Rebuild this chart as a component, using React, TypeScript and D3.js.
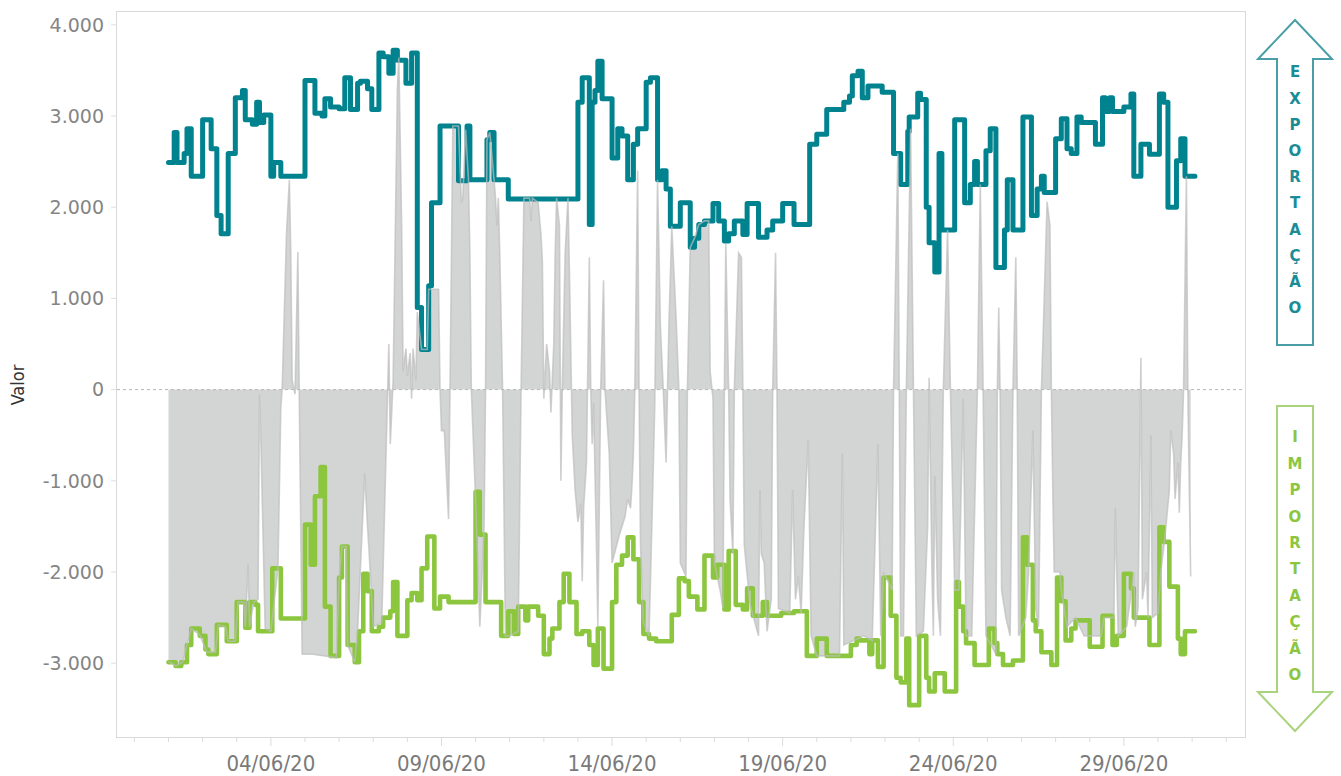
import React from "react";
import * as d3 from "d3";

// hours since 01/06/2020 00:00 -> value (step changes)
const exportSteps: [number, number][] = [
  [0,2490],[4,2820],[6,2490],[11,2590],[13,2860],[16,2340],[24,2960],[30,2640],[34,1910],[37,1710],[42,2590],[47,3200],[52,3280],[54,2960],[59,2910],[62,3150],[64,2930],[67,3010],[72,2340],[74,2490],[79,2340],[96,3390],[103,3030],[108,3000],[110,3190],[114,3100],[120,3080],[124,3420],[128,3070],[133,3360],[135,3380],[140,3300],[143,3070],[148,3690],[151,3650],[155,3470],[158,3720],[161,3610],[167,3360],[171,3690],[175,900],[178,440],[183,1140],[185,2050],[191,2890],[204,2290],[210,2890],[212,2300],[224,2740],[226,2820],[229,2300],[239,2090],[288,3150],[291,3420],[296,1810],[298,3150],[300,3280],[302,3600],[305,3190],[312,2540],[316,2860],[319,2780],[323,2300],[327,2690],[330,2860],[336,3370],[339,3420],[344,2300],[347,2400],[350,2200],[353,1790],[360,2050],[367,1560],[370,1660],[373,1810],[377,1850],[383,2040],[387,1850],[391,1630],[394,1710],[398,1850],[404,1700],[407,2040],[415,1670],[421,1750],[425,1850],[432,2040],[440,1810],[451,2690],[456,2800],[463,3070],[475,3150],[479,3220],[481,3440],[485,3490],[488,3200],[492,3330],[502,3260],[510,2590],[515,2250],[520,2830],[521,2990],[527,3250],[529,3180],[533,2000],[535,1610],[539,1290],[542,2590],[544,1750],[553,2960],[560,2050],[564,2250],[567,2500],[569,2250],[575,2620],[578,2860],[582,1340],[588,1750],[590,2300],[594,1750],[601,2990],[607,1910],[611,2200],[614,2340],[616,2160],[624,2750],[628,2970],[632,2640],[635,2590],[639,2990],[642,2930],[652,2690],[657,3200],[659,3050],[662,3200],[664,3050],[672,3100],[677,3240],[679,2340],[684,2690],[690,2580],[697,3240],[700,3150],[703,2000],[709,2510],[712,2750],[715,2340],[722,2340]
];

const importSteps: [number, number][] = [
  [0,-2990],[5,-3030],[9,-2990],[13,-2800],[16,-2620],[22,-2700],[26,-2850],[28,-2900],[34,-2580],[41,-2760],[48,-2330],[54,-2610],[57,-2330],[61,-2360],[63,-2650],[73,-1960],[79,-2510],[96,-1480],[100,-1920],[103,-1170],[107,-850],[110,-2380],[114,-2920],[120,-2060],[122,-1720],[126,-2800],[131,-2990],[134,-2650],[137,-2020],[140,-2210],[143,-2650],[148,-2600],[151,-2500],[156,-2430],[158,-2110],[161,-2700],[168,-2310],[171,-2230],[175,-2310],[178,-1960],[182,-1610],[187,-2400],[191,-2270],[197,-2330],[216,-1120],[219,-1590],[223,-2330],[234,-2700],[239,-2430],[243,-2680],[246,-2380],[251,-2530],[253,-2380],[260,-2480],[264,-2900],[268,-2730],[270,-2620],[275,-2330],[278,-2020],[282,-2330],[287,-2680],[291,-2650],[296,-2800],[299,-3020],[302,-2620],[306,-3060],[312,-2330],[315,-1920],[319,-1820],[323,-1620],[327,-1860],[331,-2330],[334,-2680],[338,-2730],[343,-2760],[354,-2470],[359,-2070],[363,-2100],[366,-2270],[372,-2410],[377,-1820],[383,-2060],[386,-1920],[391,-2410],[394,-1770],[399,-2360],[404,-2410],[407,-2180],[411,-2480],[418,-2330],[421,-2480],[431,-2450],[440,-2430],[449,-2920],[456,-2730],[463,-2920],[480,-2800],[484,-2730],[486,-2750],[493,-2900],[495,-2750],[499,-3040],[503,-2060],[508,-2480],[512,-3160],[515,-3210],[519,-2730],[521,-3460],[528,-2700],[533,-3160],[535,-3310],[539,-3110],[546,-3310],[554,-2110],[556,-2380],[559,-2650],[561,-2780],[567,-3020],[577,-2620],[581,-2780],[583,-2900],[587,-3020],[594,-2970],[601,-1620],[604,-1920],[608,-2530],[610,-2650],[614,-2880],[621,-3020],[625,-2060],[628,-2320],[631,-2750],[635,-2620],[638,-2530],[648,-2820],[657,-2480],[664,-2800],[667,-2700],[672,-2020],[677,-2180],[679,-2500],[690,-2800],[697,-1510],[700,-1670],[704,-2160],[710,-2730],[712,-2900],[715,-2650],[722,-2650]
];

const balancePoints: [number, number][] = [
  [0,-2980],[5,-3030],[10,-2990],[13,-2800],[16,-2620],[22,-2690],[27,-2880],[33,-2880],[35,-2580],[40,-2600],[42,-2760],[47,-2760],[49,-2330],[53,-2330],[54,-2600],[56,-1920],[57,-2600],[60,-2330],[63,-2300],[64,-50],[65,-580],[68,-2620],[72,-2650],[77,-1960],[79,-200],[80,30],[83,1710],[85,2300],[86,1500],[87,100],[89,-50],[91,1510],[92,-100],[94,-2900],[100,-2900],[110,-2920],[118,-2940],[120,-2100],[122,-1720],[125,-1720],[126,-2800],[131,-2990],[133,-2650],[138,-920],[140,-1500],[141,-1750],[144,-2600],[150,-2550],[154,-100],[155,500],[156,-600],[158,100],[161,3300],[162,3640],[164,1800],[165,200],[167,450],[168,150],[170,400],[171,-100],[172,450],[174,100],[175,850],[178,440],[182,440],[183,1100],[190,1100],[191,0],[192,-450],[194,-450],[197,-1420],[198,0],[200,2890],[204,2890],[206,2050],[207,2100],[209,2850],[211,2300],[212,1500],[213,0],[216,-1200],[219,-2600],[222,-1500],[223,0],[224,2740],[226,2820],[229,2300],[230,2100],[231,1800],[232,2100],[233,1500],[235,0],[237,-2700],[240,-2700],[246,-2650],[248,0],[250,2100],[254,2100],[255,1850],[256,2100],[260,2050],[262,1700],[263,1400],[264,-100],[266,500],[268,200],[269,-250],[271,500],[272,1500],[273,2100],[275,1800],[276,-1000],[277,0],[279,1500],[281,2100],[282,1300],[284,-500],[286,-1100],[288,-1450],[290,-1250],[291,-2100],[292,-1300],[294,-800],[296,1450],[297,0],[298,-600],[299,-150],[301,-1700],[302,-2600],[304,0],[306,1200],[307,0],[310,-700],[312,-1900],[317,-1600],[321,-1400],[323,-1200],[325,-1300],[326,-1050],[327,-700],[328,0],[330,2400],[331,0],[332,-1700],[334,-2550],[338,-2700],[340,-1500],[342,-200],[344,2300],[346,700],[348,0],[350,-800],[351,0],[352,700],[354,1790],[357,800],[359,0],[360,-1900],[364,-2050],[365,0],[367,1560],[370,1660],[373,1810],[377,1850],[380,1850],[381,200],[383,-100],[384,-1900],[388,-2200],[390,-2400],[391,0],[392,1600],[394,0],[395,-1200],[397,-1800],[398,0],[401,1500],[403,1450],[404,0],[405,-1700],[409,-2350],[415,-2700],[416,-1100],[417,-1800],[419,-1900],[421,-2650],[424,-2300],[425,0],[427,1500],[428,0],[429,-2400],[437,-2450],[439,-1100],[441,-2300],[443,-2050],[445,-2450],[447,-1500],[450,-550],[452,-2700],[456,-2920],[472,-2920],[474,-700],[475,-2800],[489,-2700],[495,-2750],[499,-600],[501,-2700],[503,-2000],[509,-2200],[510,0],[513,2590],[514,0],[515,-2700],[517,-2700],[519,0],[522,2860],[524,0],[526,-2700],[531,-2650],[534,-1500],[535,130],[537,-2000],[538,-2700],[539,-950],[541,-2300],[543,-2700],[545,0],[548,1750],[550,0],[553,-2200],[556,-2200],[559,-100],[561,-2700],[565,-2700],[569,0],[571,2250],[573,0],[575,-2700],[582,-2900],[583,0],[584,900],[585,-100],[586,-2200],[589,-2500],[592,-2700],[594,0],[596,1450],[597,0],[598,-2700],[603,-2500],[605,-2000],[608,-450],[610,-2400],[612,-2600],[614,0],[616,1000],[618,2060],[620,1800],[621,0],[622,-1100],[623,-2000],[627,-2000],[628,-2200],[632,-2600],[638,-2500],[644,-2700],[656,-2700],[658,-2500],[665,-2500],[666,-1300],[668,-2700],[674,-2600],[679,-2000],[680,-2600],[682,-2400],[684,350],[685,-2300],[688,-2000],[689,-2500],[691,-500],[692,-2500],[696,-2450],[698,-2000],[701,-1600],[704,-1100],[705,-450],[707,-700],[708,-1200],[710,-800],[711,-1350],[712,-800],[713,-500],[714,0],[716,2340],[717,0],[718,-1050],[719,-2050]
];

const yTicks = [4000, 3000, 2000, 1000, 0, -1000, -2000, -3000];
const yTickLabels = ["4.000", "3.000", "2.000", "1.000", "0", "-1.000", "-2.000", "-3.000"];
const xLabelDates = ["2020-06-04", "2020-06-09", "2020-06-14", "2020-06-19", "2020-06-24", "2020-06-29"];
const xLabels = ["04/06/20", "09/06/20", "14/06/20", "19/06/20", "24/06/20", "29/06/20"];
const exportWord = ["E", "X", "P", "O", "R", "T", "A", "Ç", "Ã", "O"];
const importWord = ["I", "M", "P", "O", "R", "T", "A", "Ç", "Ã", "O"];

const START = new Date(2020, 5, 1, 0, 0, 0);
const hourDate = (h: number) => new Date(START.getTime() + h * 3600000);
const parseDay = (s: string) => {
  const [y, m, d] = s.split("-").map(Number);
  return new Date(y, m - 1, d);
};

export default function App() {
  const W = 1341, H = 776;
  const frame = { l: 116, r: 1245, t: 11, b: 737 };
  const x = d3.scaleTime()
    .domain([START, new Date(2020, 6, 1)])
    .range([168.5, 168.5 + 30 * 34.12]);
  const y = d3.scaleLinear().domain([-3000, 4000]).range([663.2, 24.8]);

  const stepLine = d3.line<[number, number]>()
    .x(d => x(hourDate(d[0])))
    .y(d => y(d[1]))
    .curve(d3.curveStepAfter);

  const balArea = d3.area<[number, number]>()
    .x(d => x(hourDate(d[0])))
    .y0(y(0))
    .y1(d => y(d[1]))
    .curve(d3.curveLinear);
  const balLine = d3.line<[number, number]>()
    .x(d => x(hourDate(d[0])))
    .y(d => y(d[1]))
    .curve(d3.curveLinear);

  const dayTicks = d3.timeDay.range(new Date(2020, 4, 31), new Date(2020, 6, 3));
  const labelSet = new Set(xLabelDates.map(s => parseDay(s).getTime()));

  const teal = "#00838f";
  const green = "#8cc63f";
  const narrow = "'DejaVu Sans Condensed', 'Liberation Sans Narrow', sans-serif";

  const expArrow = [[1295,20],[1332,59],[1313,59],[1313,345],[1277,345],[1277,59],[1258,59]];
  const impArrow = [[1277,406],[1313,406],[1313,692],[1332,692],[1295,731],[1258,692],[1277,692]];

  return (
    <div style={{ position: "absolute", left: 0, top: 0 }}>
      <svg width={W} height={H} style={{ display: "block", background: "#fff" }}>
        {/* frame */}
        <rect x={frame.l + 0.5} y={frame.t + 0.5} width={frame.r - frame.l} height={frame.b - frame.t}
          fill="none" stroke="#d9d9d9" strokeWidth={1} />

        {/* y ticks & labels */}
        {yTicks.map((v, i) => (
          <g key={v}>
            <line x1={111} x2={frame.l} y1={y(v)} y2={y(v)} stroke="#e0e0e0" />
            <text x={104} y={y(v)} dy="0.36em" textAnchor="end"
              style={{ font: "19px 'DejaVu Sans', sans-serif", fill: "#858585" }}>{yTickLabels[i]}</text>
          </g>
        ))}
        <text transform={`translate(24,${385}) rotate(-90)`} textAnchor="middle"
          style={{ font: `18px ${narrow}`, fill: "#333" }}>Valor</text>

        {/* x ticks */}
        {dayTicks.map(d => {
          const major = labelSet.has(d.getTime());
          return <line key={d.getTime()} x1={x(d)} x2={x(d)} y1={frame.b + 1} y2={frame.b + (major ? 9 : 5)}
            stroke="#dcdcdc" />;
        })}
        {xLabelDates.map((s, i) => (
          <text key={s} x={x(parseDay(s))} y={771} textAnchor="middle"
            style={{ font: `22px ${narrow}`, fill: "#7a7a7a" }}>{xLabels[i]}</text>
        ))}

        {/* balance area */}
        <path d={balArea(balancePoints) || ""} fill="#d3d4d4" />
        <line x1={frame.l + 1} x2={frame.r} y1={y(0)} y2={y(0)} stroke="#b8b8b8" strokeDasharray="3,3" />

        {/* lines */}
        <path d={stepLine(importSteps) || ""} fill="none" stroke={green} strokeWidth={4.6} strokeLinejoin="round" strokeLinecap="round" />
        <path d={stepLine(exportSteps) || ""} fill="none" stroke={teal} strokeWidth={5} strokeLinejoin="round" strokeLinecap="round" />
        <path d={balLine(balancePoints) || ""} fill="none" stroke="#bdbdbd" strokeWidth={1.6} strokeOpacity={0.7} />

        {/* arrows */}
        <polygon points={expArrow.map(p => p.join(",")).join(" ")} fill="#fff" stroke="#4a9ea7" strokeWidth={2} />
        {exportWord.map((c, i) => (
          <text key={"e" + i} x={1295} y={72 + i * 26.2} dy="0.36em" textAnchor="middle"
            style={{ font: "bold 15px 'DejaVu Sans', sans-serif", fill: "#1b8c97" }}>{c}</text>
        ))}
        <polygon points={impArrow.map(p => p.join(",")).join(" ")} fill="#fff" stroke="#a9d37c" strokeWidth={2} />
        {importWord.map((c, i) => (
          <text key={"i" + i} x={1295} y={437 + i * 26.4} dy="0.36em" textAnchor="middle"
            style={{ font: "bold 15px 'DejaVu Sans', sans-serif", fill: "#8cc63f" }}>{c}</text>
        ))}
      </svg>
    </div>
  );
}
